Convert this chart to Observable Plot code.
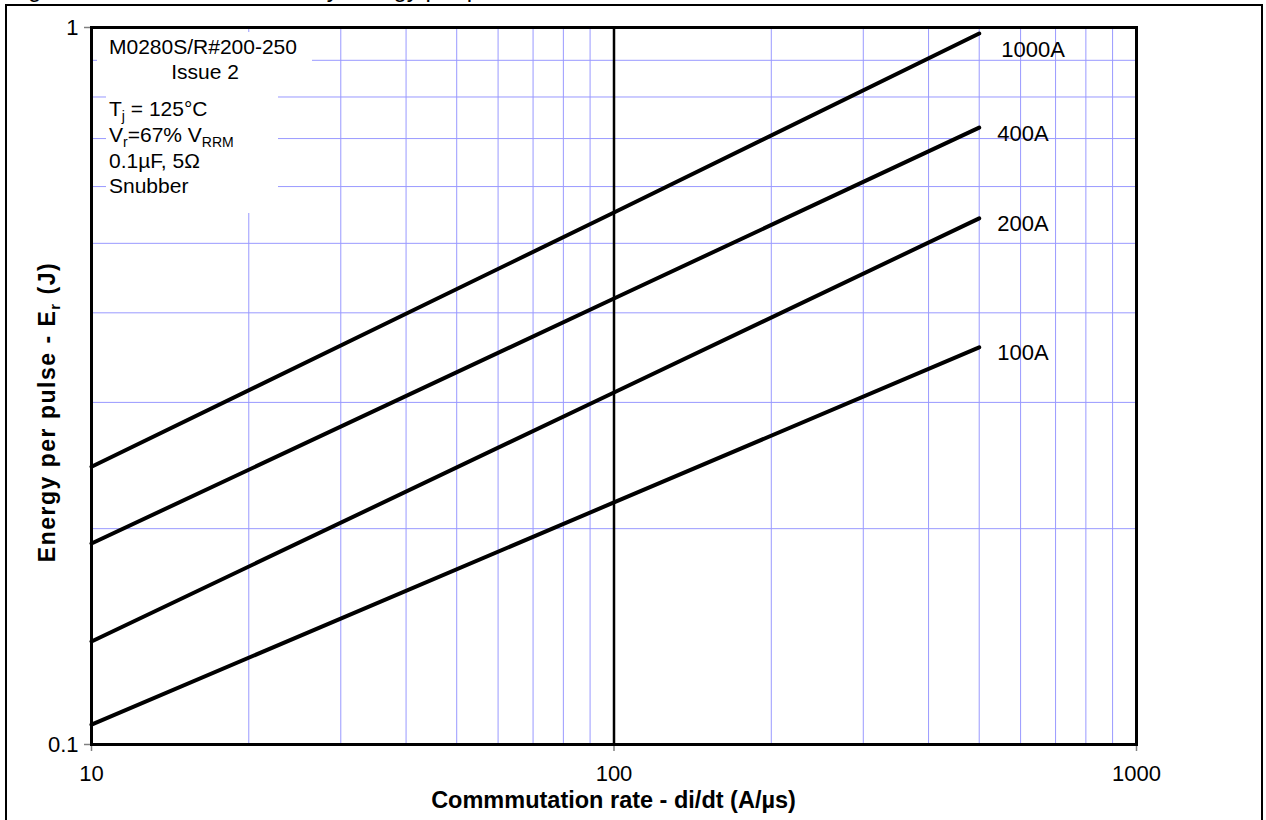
<!DOCTYPE html>
<html>
<head>
<meta charset="utf-8">
<script src="https://cdn.jsdelivr.net/npm/d3@7"></script>
<script src="https://cdn.jsdelivr.net/npm/@observablehq/plot@0.6"></script>
<style>
  body { margin: 0; background: #fff; font-family: "Liberation Sans", Arial, sans-serif; }
  #wrap { position: relative; width: 1266px; height: 820px; overflow: hidden; }
  #title { position: absolute; left: 8px; top: -25px; font-size: 24px; white-space: nowrap; color: #000; }
  #chart { position: absolute; left: 0; top: 0; }
  #border { position: absolute; left: 5px; top: 4px; width: 1258px; height: 840px; border: 2px solid #000; box-sizing: border-box; pointer-events: none; }
</style>
</head>
<body>
<div id="wrap">
  <div id="chart"></div>
  <div id="title">Figure 10 – Maximum recovery energy per pulse</div>
  <div id="border"></div>
</div>
<script>
// ---- data ----
const rates = [10, 100, 500];                 // di/dt (A/µs)
const currents = ["1000A", "400A", "200A", "100A"];
const energy1000A = [0.244, 0.552, 0.981];    // J
const energy400A  = [0.1907, 0.4188, 0.725];
const energy200A  = [0.1392, 0.3097, 0.5417];
const energy100A  = [0.1066, 0.2176, 0.358];
const xTicks = [10, 100, 1000];
const yTicks = [0.1, 1];
const xMinor = [20, 30, 40, 50, 60, 70, 80, 90, 200, 300, 400, 500, 600, 700, 800, 900];
const yMinor = [0.2, 0.3, 0.4, 0.5, 0.6, 0.7, 0.8, 0.9];
const xMajorLine = [100];
const xTitle = "Commmutation rate - di/dt (A/µs)";
const noteBox1 = ["M0280S/R#200-250", "Issue 2"];

const seriesValues = [energy1000A, energy400A, energy200A, energy100A];
const data = [];
currents.forEach((c, i) => rates.forEach((r, j) => data.push({current: c, rate: r, energy: seriesValues[i][j]})));
const ends = currents.map((c, i) => ({current: c, rate: rates[rates.length - 1], energy: seriesValues[i][rates.length - 1]}));

const FONT = "'Liberation Sans', Arial, Helvetica, sans-serif";

const plot = Plot.plot({
  width: 1266,
  height: 820,
  marginLeft: 91,
  marginRight: 130,
  marginTop: 27,
  marginBottom: 76,
  style: { fontFamily: FONT, fontSize: "22px", color: "#000", background: "#fff" },
  x: { type: "log", domain: [10, 1000], ticks: xTicks, tickFormat: d => String(d), tickSize: 7, tickPadding: 14, label: null },
  y: { type: "log", domain: [0.1, 1], ticks: yTicks, tickFormat: d => String(d), tickSize: 7, tickPadding: 6, label: null },
  marks: [
    Plot.ruleX(xMinor, { stroke: "#9999ff", strokeWidth: 1 }),
    Plot.ruleY(yMinor, { stroke: "#9999ff", strokeWidth: 1 }),
    Plot.ruleX(xMajorLine, { stroke: "#000", strokeWidth: 2.5 }),
    Plot.line(data, { x: "rate", y: "energy", z: "current", stroke: "#000", strokeWidth: 4, strokeLinecap: "round" }),
    Plot.text(ends.filter(d => d.current === "1000A"), { x: "rate", y: "energy", text: "current", textAnchor: "start", dx: 22, dy: 16, fontSize: 22, fill: "#000", ariaLabel: "curve labels" }),
    Plot.text(ends.filter(d => d.current !== "1000A"), { x: "rate", y: "energy", text: "current", textAnchor: "start", dx: 18, dy: 6, fontSize: 22, fill: "#000", ariaLabel: "curve labels" }),
    Plot.frame({ stroke: "#000", strokeWidth: 3 })
  ]
});

document.getElementById("chart").append(plot);
const svg = d3.select(plot);

// grey tick marks
svg.selectAll('g[aria-label="x-axis tick"], g[aria-label="y-axis tick"]').attr("stroke", "#808080").attr("stroke-width", 1.5);

// white boxes behind curve labels
svg.selectAll('g[aria-label="curve labels"] text').each(function () {
  const b = this.getBBox();
  const t = this.getAttribute("transform");
  const r = d3.select(this.parentNode).insert("rect", () => this)
    .attr("x", b.x - 7).attr("y", b.y - 5).attr("width", b.width + 14).attr("height", b.height + 10)
    .attr("fill", "#fff");
  if (t) r.attr("transform", t);
});

// annotation boxes (top-left)
const note = svg.append("g").attr("font-family", FONT).attr("font-size", 21).attr("fill", "#000").attr("text-anchor", "start");
note.append("rect").attr("x", 97).attr("y", 32).attr("width", 215).attr("height", 52).attr("fill", "#fff");
note.append("rect").attr("x", 106).attr("y", 84).attr("width", 172).attr("height", 129).attr("fill", "#fff");
note.append("text").attr("x", 109).attr("y", 54).text(noteBox1[0]);
note.append("text").attr("x", 205).attr("y", 79).attr("text-anchor", "middle").text(noteBox1[1]);

function rich(y, parts) {
  const t = note.append("text").attr("x", 109).attr("y", y);
  let shifted = false;
  parts.forEach(([s, sub]) => {
    if (sub) { t.append("tspan").attr("dy", 5).attr("font-size", 14).text(s); shifted = true; }
    else { t.append("tspan").attr("dy", shifted ? -5 : 0).text(s); shifted = false; }
  });
}
rich(116, [["T"], ["j", true], [" = 125°C"]]);
rich(142, [["V"], ["r", true], ["=67% V"], ["RRM", true]]);
rich(168, [["0.1µF, 5Ω"]]);
rich(193, [["Snubber"]]);

// axis titles
svg.append("text")
  .attr("x", (91 + 1136) / 2).attr("y", 808)
  .attr("text-anchor", "middle").attr("font-family", FONT).attr("font-weight", "bold").attr("font-size", 23.5)
  .attr("fill", "#000").text(xTitle);

const yl = svg.append("text")
  .attr("transform", "translate(55,412) rotate(-90)")
  .attr("text-anchor", "middle").attr("font-family", FONT).attr("font-weight", "bold").attr("font-size", 23)
  .attr("letter-spacing", 1.5)
  .attr("fill", "#000");
yl.append("tspan").text("Energy per pulse - E");
yl.append("tspan").attr("dy", 5).attr("font-size", 15).text("r");
yl.append("tspan").attr("dy", -5).text(" (J)");
</script>
</body>
</html>
